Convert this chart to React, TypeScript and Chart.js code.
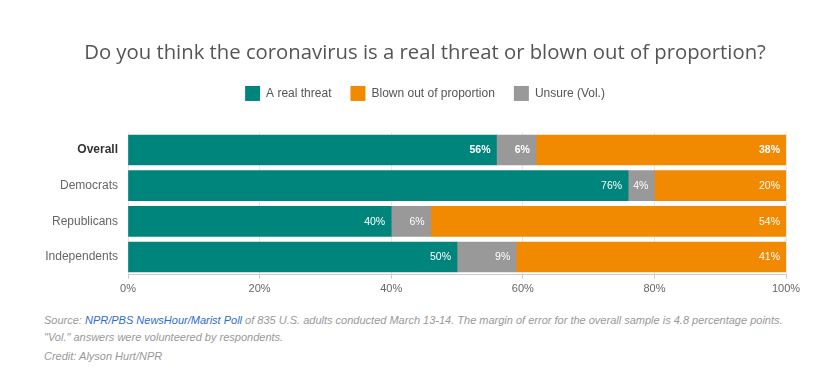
import React, { useEffect, useRef } from "react";
import { Chart, registerables } from "chart.js";

Chart.register(...registerables);

const categories = ["Overall", "Democrats", "Republicans", "Independents"];
const realThreat = [56, 76, 40, 50];
const unsure = [6, 4, 6, 9];
const blownOut = [38, 20, 54, 41];
const xTicks = [0, 20, 40, 60, 80, 100];

const TEAL = "#00857c";
const ORANGE = "#f18a00";
const GRAY = "#999999";

const legendOrder: Record<number, number> = { 0: 0, 2: 1, 1: 2 };

const barLabels = {
  id: "barLabels",
  afterDatasetsDraw(chart: any) {
    const ctx = chart.ctx;
    ctx.save();
    ctx.textAlign = "right";
    ctx.textBaseline = "middle";
    ctx.fillStyle = "#ffffff";
    chart.data.datasets.forEach((ds: any, di: number) => {
      const meta = chart.getDatasetMeta(di);
      meta.data.forEach((el: any, i: number) => {
        const v = ds.data[i];
        const bold = i === 0 ? "bold " : "";
        ctx.font = bold + '10.5px "Liberation Sans", Arial, sans-serif';
        ctx.fillText(v + "%", el.x - 6, el.y + 0.5);
      });
    });
    ctx.restore();
  },
};

export default function App() {
  const ref = useRef<HTMLCanvasElement | null>(null);

  useEffect(() => {
    if (!ref.current) return;
    const chart = new Chart(ref.current, {
      type: "bar",
      data: {
        labels: categories,
        datasets: [
          { label: "A real threat", data: realThreat, backgroundColor: TEAL, borderWidth: 0, barThickness: 30 },
          { label: "Unsure (Vol.)", data: unsure, backgroundColor: GRAY, borderWidth: 0, barThickness: 30 },
          { label: "Blown out of proportion", data: blownOut, backgroundColor: ORANGE, borderWidth: 0, barThickness: 30 },
        ],
      },
      options: {
        indexAxis: "y",
        responsive: false,
        animation: false,
        devicePixelRatio: 1,
        layout: { padding: { left: 0, right: 0, top: 0, bottom: 0 } },
        scales: {
          x: {
            stacked: true,
            min: 0,
            max: 100,
            afterBuildTicks: (scale: any) => {
              scale.ticks = xTicks.map((v) => ({ value: v }));
            },
            ticks: {
              callback: (v: any) => v + "%",
              color: "#666",
              font: { size: 11, family: '"Liberation Sans", Arial, sans-serif' },
              padding: 4,
              maxRotation: 0,
            },
            grid: { color: "#e8e8e8", tickLength: 4, tickColor: "#cccccc" },
            border: { color: "#cccccc", width: 1 },
          },
          y: {
            stacked: true,
            afterFit: (scale: any) => {
              scale.width = 112;
            },
            grid: { display: false, drawTicks: false },
            border: { display: false },
            ticks: {
              padding: 10,
              color: (c: any) => (c.index === 0 ? "#333" : "#666"),
              font: (c: any) => ({
                size: 12,
                family: '"Liberation Sans", Arial, sans-serif',
                weight: c.index === 0 ? "bold" : "normal",
              }),
            },
          },
          yRight: {
            type: "category",
            position: "right",
            labels: categories,
            afterFit: (scale: any) => {
              scale.width = 48;
            },
            grid: { display: false, drawTicks: false },
            border: { display: false },
            ticks: { display: false },
          },
        },
        plugins: {
          title: {
            display: true,
            text: "Do you think the coronavirus is a real threat or blown out of proportion?",
            color: "#555",
            font: { size: 20.3, family: '"Open Sans", sans-serif', weight: "normal" },
            padding: { top: 41.3, bottom: 1.3 },
          },
          legend: {
            display: true,
            position: "top",
            labels: {
              boxWidth: 15,
              boxHeight: 15,
              padding: 19,
              color: "#555",
              font: { size: 12, family: '"Liberation Sans", Arial, sans-serif' },
              sort: (a: any, b: any) => legendOrder[a.datasetIndex] - legendOrder[b.datasetIndex],
            },
          },
          subtitle: {
            display: true,
            text: " ",
            font: { size: 1, lineHeight: 1 },
            padding: { top: 0, bottom: 20.2 },
            weight: 500,
          } as any,
          tooltip: { enabled: false },
        },
      } as any,
      plugins: [barLabels],
    });
    return () => chart.destroy();
  }, []);

  const foot: React.CSSProperties = {
    position: "absolute",
    left: 44,
    fontFamily: '"Liberation Sans", Arial, sans-serif',
    fontStyle: "italic",
    fontSize: 11,
    lineHeight: "14px",
    color: "#999",
    whiteSpace: "nowrap",
  };

  return (
    <div style={{ position: "fixed", left: 0, top: 0, width: 827, height: 384, overflow: "hidden", background: "#fff" }}>
      <canvas ref={ref} width={818} height={300} style={{ position: "absolute", left: 16, top: 0, display: "block" }} />
      <div style={{ ...foot, top: 313 }}>
        Source: <span style={{ color: "#2f6bd1" }}>NPR/PBS NewsHour/Marist Poll</span> of 835 U.S. adults conducted March 13-14. The margin of error for the overall sample is 4.8 percentage points.
      </div>
      <div style={{ ...foot, top: 330 }}>"Vol." answers were volunteered by respondents.</div>
      <div style={{ ...foot, top: 349 }}>Credit: Alyson Hurt/NPR</div>
    </div>
  );
}
